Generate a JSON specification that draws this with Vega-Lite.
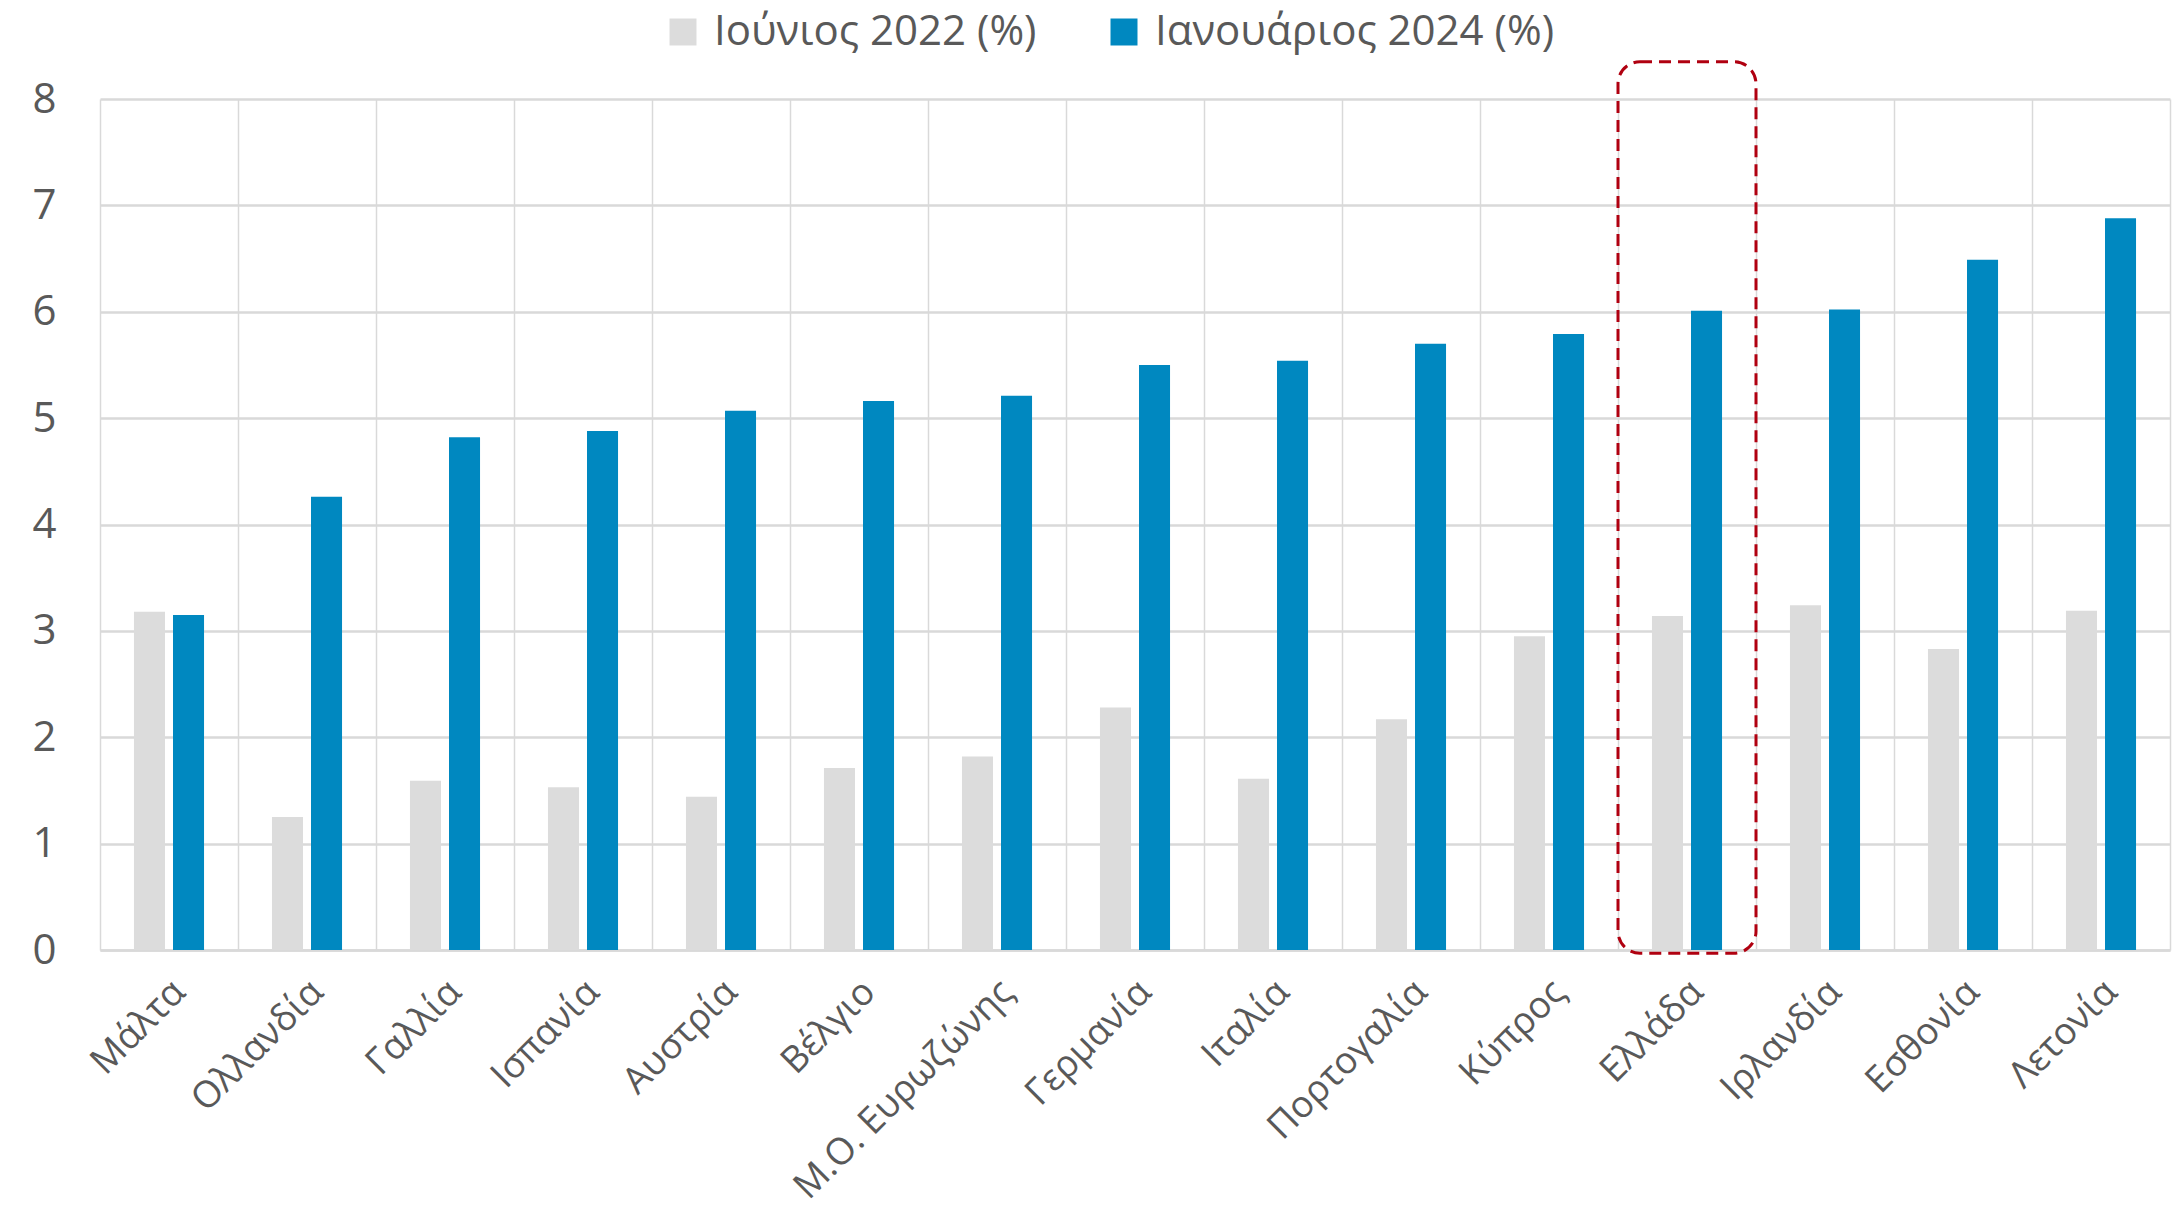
{
  "$schema": "https://vega.github.io/schema/vega-lite/v6.json",
  "autosize": "none",
  "width": 2070,
  "height": 851,
  "padding": {"left": 100, "top": 99, "right": 9, "bottom": 264},
  "background": "white",
  "config": {
    "font": "Open Sans",
    "view": {"stroke": null},
    "axis": {"labelColor": "#595959", "labelFont": "Open Sans", "gridColor": "#d9d9d9", "tickSize": 0, "ticks": false, "labelLimit": 0}
  },
  "data": {
    "values": [
      {"country": "Μάλτα", "series": "Ιούνιος 2022 (%)", "value": 3.18},
      {"country": "Μάλτα", "series": "Ιανουάριος 2024 (%)", "value": 3.15},
      {"country": "Ολλανδία", "series": "Ιούνιος 2022 (%)", "value": 1.25},
      {"country": "Ολλανδία", "series": "Ιανουάριος 2024 (%)", "value": 4.26},
      {"country": "Γαλλία", "series": "Ιούνιος 2022 (%)", "value": 1.59},
      {"country": "Γαλλία", "series": "Ιανουάριος 2024 (%)", "value": 4.82},
      {"country": "Ισπανία", "series": "Ιούνιος 2022 (%)", "value": 1.53},
      {"country": "Ισπανία", "series": "Ιανουάριος 2024 (%)", "value": 4.88},
      {"country": "Αυστρία", "series": "Ιούνιος 2022 (%)", "value": 1.44},
      {"country": "Αυστρία", "series": "Ιανουάριος 2024 (%)", "value": 5.07},
      {"country": "Βέλγιο", "series": "Ιούνιος 2022 (%)", "value": 1.71},
      {"country": "Βέλγιο", "series": "Ιανουάριος 2024 (%)", "value": 5.16},
      {"country": "Μ.Ο. Ευρωζώνης", "series": "Ιούνιος 2022 (%)", "value": 1.82},
      {"country": "Μ.Ο. Ευρωζώνης", "series": "Ιανουάριος 2024 (%)", "value": 5.21},
      {"country": "Γερμανία", "series": "Ιούνιος 2022 (%)", "value": 2.28},
      {"country": "Γερμανία", "series": "Ιανουάριος 2024 (%)", "value": 5.5},
      {"country": "Ιταλία", "series": "Ιούνιος 2022 (%)", "value": 1.61},
      {"country": "Ιταλία", "series": "Ιανουάριος 2024 (%)", "value": 5.54},
      {"country": "Πορτογαλία", "series": "Ιούνιος 2022 (%)", "value": 2.17},
      {"country": "Πορτογαλία", "series": "Ιανουάριος 2024 (%)", "value": 5.7},
      {"country": "Κύπρος", "series": "Ιούνιος 2022 (%)", "value": 2.95},
      {"country": "Κύπρος", "series": "Ιανουάριος 2024 (%)", "value": 5.79},
      {"country": "Ελλάδα", "series": "Ιούνιος 2022 (%)", "value": 3.14},
      {"country": "Ελλάδα", "series": "Ιανουάριος 2024 (%)", "value": 6.01},
      {"country": "Ιρλανδία", "series": "Ιούνιος 2022 (%)", "value": 3.24},
      {"country": "Ιρλανδία", "series": "Ιανουάριος 2024 (%)", "value": 6.02},
      {"country": "Εσθονία", "series": "Ιούνιος 2022 (%)", "value": 2.83},
      {"country": "Εσθονία", "series": "Ιανουάριος 2024 (%)", "value": 6.49},
      {"country": "Λετονία", "series": "Ιούνιος 2022 (%)", "value": 3.19},
      {"country": "Λετονία", "series": "Ιανουάριος 2024 (%)", "value": 6.88}
    ]
  },
  "encoding": {
    "x": {
      "field": "country",
      "type": "nominal",
      "title": null,
      "scale": {
        "domain": ["Μάλτα", "Ολλανδία", "Γαλλία", "Ισπανία", "Αυστρία", "Βέλγιο", "Μ.Ο. Ευρωζώνης", "Γερμανία", "Ιταλία", "Πορτογαλία", "Κύπρος", "Ελλάδα", "Ιρλανδία", "Εσθονία", "Λετονία"],
        "paddingInner": 0,
        "paddingOuter": 0
      },
      "axis": {
        "grid": true,
        "gridWidth": 1.5,
        "tickBand": "extent",
        "domain": true,
        "domainColor": "#d9d9d9",
        "domainWidth": 2.5,
        "labelAngle": -45,
        "labelAlign": "right",
        "labelBaseline": "middle",
        "labelFontSize": 37,
        "labelPadding": 36,
        "labelOffset": 10
      }
    },
    "y": {
      "type": "quantitative",
      "title": null,
      "scale": {"domain": [0, 8], "nice": false},
      "axis": {
        "values": [0, 1, 2, 3, 4, 5, 6, 7, 8],
        "grid": true,
        "gridWidth": 2.5,
        "domain": false,
        "labelFontSize": 42,
        "labelPadding": 44
      }
    }
  },
  "layer": [
    {
      "mark": {"type": "bar"},
      "encoding": {
        "y": {"field": "value", "type": "quantitative"},
        "xOffset": {
          "field": "series",
          "type": "nominal",
          "sort": ["Ιούνιος 2022 (%)", "Ιανουάριος 2024 (%)"],
          "scale": {"paddingInner": 0.205, "paddingOuter": 0.87}
        },
        "color": {
          "field": "series",
          "type": "nominal",
          "scale": {
            "domain": ["Ιούνιος 2022 (%)", "Ιανουάριος 2024 (%)"],
            "range": ["#dcdcdc", "#0088c0"]
          },
          "legend": {
            "title": null,
            "orient": "none",
            "direction": "horizontal",
            "legendX": 562,
            "legendY": -88,
            "symbolType": "square",
            "symbolSize": 729,
            "symbolStrokeWidth": 0,
            "labelFontSize": 42,
            "labelColor": "#595959",
            "labelOffset": 10,
            "labelLimit": 0,
            "columnPadding": 66,
            "padding": 0
          }
        }
      }
    },
    {
      "data": {"values": [{"country": "Ελλάδα", "top": 8.35, "bottom": -0.03}]},
      "mark": {
        "type": "rect",
        "fill": null,
        "stroke": "#b00010",
        "strokeWidth": 3,
        "strokeDash": [12, 7],
        "cornerRadius": 22,
        "clip": false
      },
      "encoding": {
        "y": {"field": "top", "type": "quantitative"},
        "y2": {"field": "bottom"}
      }
    }
  ]
}
